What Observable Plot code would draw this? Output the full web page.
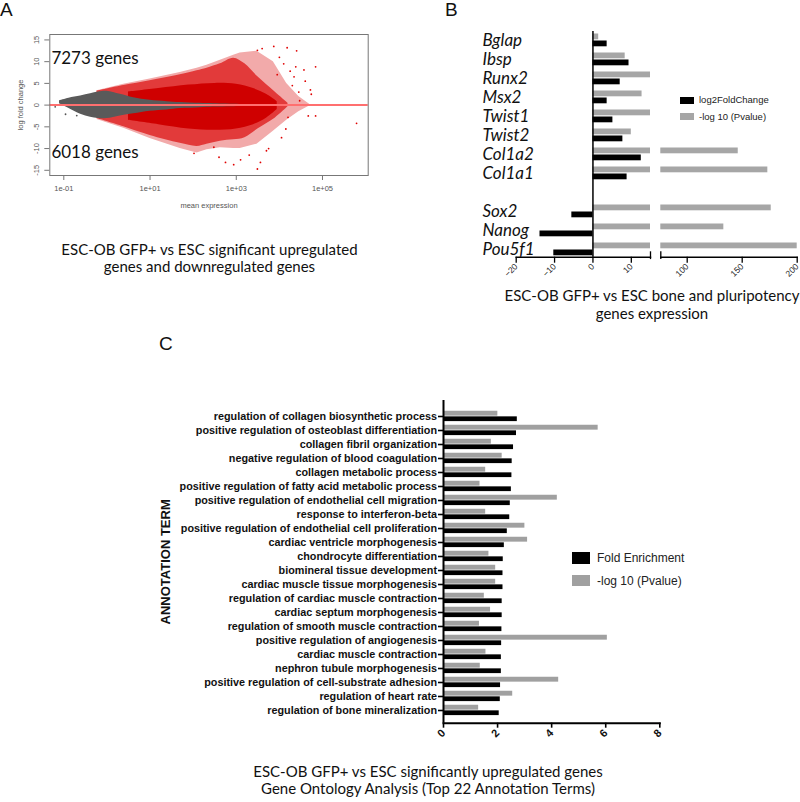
<!DOCTYPE html>
<html>
<head>
<meta charset="utf-8">
<script src="https://cdn.jsdelivr.net/npm/d3@7"></script>
<script src="https://cdn.jsdelivr.net/npm/@observablehq/plot@0.6"></script>
<style>
  html, body { margin: 0; padding: 0; background: #fff; }
  #root { position: relative; width: 800px; height: 802px; overflow: hidden; background: #fff; }
  .cap { position: absolute; text-align: center; font-family: Lato, "Open Sans", sans-serif; font-size: 15px; color: #111; }
  .letter { position: absolute; font-family: "Liberation Sans", Arial, sans-serif; font-size: 19px; color: #111; line-height: 1; }
  .lg { position: absolute; font-family: "Liberation Sans", Arial, sans-serif; color: #222; white-space: nowrap; }
</style>
</head>
<body>
<div id="root"></div>
<script>
// ---------------- Panel A : MA plot (cloud envelopes) ----------------
const maTickValues = [0.1, 10, 1000, 100000];
const maTickLabels = ["1e-01", "1e+01", "1e+03", "1e+05"];
const lfcTicks = [-15, -10, -5, 0, 5, 10, 15];
const upCount = "7273 genes";
const downCount = "6018 genes";

// log10(mean expression) positions and log fold change envelopes
const sparseLogMean = [-0.23, 0.39, 1.0, 1.7, 2.09, 2.32, 2.63, 2.94, 3.09, 3.48, 3.86, 4.17, 4.45, 4.7];
const sparseUpper   = [3.3, 4.8, 6.0, 7.5, 8.5, 9.2, 10.3, 11.5, 12.0, 12.4, 10.0, 5.0, 2.0, 0.2];
const sparseLower   = [-3.3, -5.3, -7.7, -10, -11, -10.3, -9.8, -10, -10, -9, -6.0, -3.5, -1.5, -0.2];

const wedgeLogMean = [-0.23, 0.39, 1.0, 1.7, 2.09, 2.32, 2.63, 2.94, 3.2, 3.5, 3.9, 4.2];
const wedgeUpper   = [3.2, 4.5, 5.6, 7.0, 7.9, 8.5, 9.5, 10.8, 9.5, 6.5, 3.0, 0.4];
const wedgeLower   = [-3.1, -5.0, -7.0, -8.8, -9.5, -9.0, -8.3, -8.0, -7.5, -5.5, -3.0, -0.4];

const coreLogMean = [0.5, 1.2, 1.9, 2.5, 3.0, 3.4, 3.7, 3.95];
const coreUpper   = [3.0, 3.8, 4.6, 5.0, 4.8, 3.8, 2.5, 0.8];
const coreLower   = [-3.5, -4.5, -5.5, -5.8, -5.5, -4.5, -3.0, -1.0];

const grayLogMean = [-1.1, -0.88, -0.61, -0.38, -0.2, 0.0, 0.31, 0.62, 1.0, 1.39, 1.7, 2.16, 2.47, 3.09, 3.55];
const grayUpper   = [1.0, 1.6, 2.1, 2.6, 3.0, 3.2, 2.5, 1.7, 1.1, 0.8, 0.6, 0.4, 0.3, 0.15, 0.1];
const grayLower   = [0.3, -0.8, -2.1, -2.8, -3.1, -3.1, -2.5, -2.0, -1.4, -1.1, -0.8, -0.6, -0.45, -0.3, -0.15];

// isolated significant genes outside the envelopes
const outlierLogMean = [4.4, 4.38, 4.57, 4.84, 4.72, 4.74, 4.47, 4.67, 4.84, 5.79, 4.18, 3.87, 3.49, 2.75, 2.94, 3.49, 3.56, 2.48, 2.02, 4.34, 3.3, 3.7, 2.6, 3.1, 4.1, 4.25, 4.0, 4.3, 4.15, 4.45, 4.05, 4.6, 4.2, 3.95, 3.6, 3.75];
const outlierLfc     = [12.5, 8.8, 8.1, 8.8, 3.5, 2.5, 1.0, -2.5, -2.5, -4.2, 13.2, 13.5, 12.6, -13.2, -13.7, -14.7, -13.2, -9.7, -11.1, 6.5, -11.5, -10.5, -12.0, -12.6, 9.5, 7.8, 11.0, 4.5, -5.5, 3.0, -7.5, 5.5, -2.8, 7.0, 13.0, -10.0];
const grayDotLogMean = [-0.96, -1.2, -0.7];
const grayDotLfc     = [-2.1, -0.4, -2.4];

// ---------------- Panel B : bone and pluripotency genes ----------------
const genesB = ["Bglap", "Ibsp", "Runx2", "Msx2", "Twist1", "Twist2", "Col1a2", "Col1a1", "Sox2", "Nanog", "Pou5f1"];
const log2FoldChange = [3.7, 9.4, 7.1, 3.7, 5.2, 7.8, 12.6, 8.9, -5.5, -13.8, -10.2];
const negLog10PB = [1.5, 8.4, 15, 12.8, 15, 10.0, 146.4, 173.3, 176.4, 133.3, 200];
const xTicksBLow = [-20, -10, 0, 10];
const xTicksBHigh = [100, 150, 200];
const breakLow = 15, breakHigh = 76;

// ---------------- Panel C : GO terms ----------------
const terms = [
  "regulation of collagen biosynthetic process",
  "positive regulation of osteoblast differentiation",
  "collagen fibril organization",
  "negative regulation of blood coagulation",
  "collagen metabolic process",
  "positive regulation of fatty acid metabolic process",
  "positive regulation of endothelial cell migration",
  "response to interferon-beta",
  "positive regulation of endothelial cell proliferation",
  "cardiac ventricle morphogenesis",
  "chondrocyte differentiation",
  "biomineral tissue development",
  "cardiac muscle tissue morphogenesis",
  "regulation of cardiac muscle contraction",
  "cardiac septum morphogenesis",
  "regulation of smooth muscle contraction",
  "positive regulation of angiogenesis",
  "cardiac muscle contraction",
  "nephron tubule morphogenesis",
  "positive regulation of cell-substrate adhesion",
  "regulation of heart rate",
  "regulation of bone mineralization"
];
const foldEnrichment = [2.73, 2.70, 2.59, 2.54, 2.53, 2.51, 2.47, 2.45, 2.36, 2.25, 2.21, 2.20, 2.20, 2.17, 2.17, 2.16, 2.15, 2.14, 2.14, 2.11, 2.10, 2.06];
const negLog10PC = [2.01, 5.72, 1.77, 2.17, 1.56, 1.35, 4.21, 1.56, 3.01, 3.11, 1.68, 1.93, 1.93, 1.51, 1.74, 1.33, 6.06, 1.57, 1.36, 4.26, 2.56, 1.30];
const xTicksC = [0, 2, 4, 6, 8];

// ================= build =================
const root = document.getElementById("root");
function place(el, left, top) {
  el.style.position = "absolute";
  el.style.left = left + "px";
  el.style.top = top + "px";
  root.appendChild(el);
}
function html(cls, left, top, text, extra) {
  const d = document.createElement("div");
  d.className = cls;
  d.style.left = left + "px";
  d.style.top = top + "px";
  d.innerHTML = text;
  if (extra) Object.assign(d.style, extra);
  root.appendChild(d);
  return d;
}
const baseStyle = {fontFamily: "'Liberation Sans', Arial, sans-serif", background: "transparent", overflow: "visible"};
const env = (m, hi, lo) => m.map((v, i) => ({m: v, hi: hi[i], lo: lo[i]}));
const sparse = env(sparseLogMean, sparseUpper, sparseLower);
const wedge = env(wedgeLogMean, wedgeUpper, wedgeLower);
const core = env(coreLogMean, coreUpper, coreLower);
const grayCloud = env(grayLogMean, grayUpper, grayLower);
const outliers = outlierLogMean.map((m, i) => ({m, v: outlierLfc[i]}));
const grayDots = grayDotLogMean.map((m, i) => ({m, v: grayDotLfc[i]}));
const X = d => Math.pow(10, d.m);

const plotA = Plot.plot({
  width: 400, height: 220,
  marginLeft: 49.3, marginRight: 32.3, marginTop: 34, marginBottom: 45,
  style: baseStyle,
  x: {type: "log", domain: [Math.pow(10, -1.325), Math.pow(10, 6.06)], label: null},
  y: {domain: [-16.2, 16.25], label: null},
  marks: [
    Plot.areaY(sparse, {x: X, y1: "lo", y2: "hi", fill: "#f2aaaa"}),
    Plot.areaY(wedge, {x: X, y1: "lo", y2: "hi", fill: "#e23a3a", curve: "catmull-rom"}),
    Plot.areaY(core, {x: X, y1: "lo", y2: "hi", fill: "#cf0000", curve: "catmull-rom"}),
    Plot.dot(outliers, {x: X, y: "v", r: 0.9, fill: "#e00000"}),
    Plot.areaY(grayCloud, {x: X, y1: "lo", y2: "hi", fill: "#5a5a5a", curve: "catmull-rom"}),
    Plot.dot(grayDots, {x: X, y: "v", r: 0.9, fill: "#555"}),
    Plot.ruleY([0], {stroke: "#ff6f6f", strokeWidth: 2}),
    Plot.frame({stroke: "#777"}),
    Plot.axisX({ticks: maTickValues, tickFormat: d => maTickLabels[maTickValues.indexOf(d)], tickSize: 5, tickPadding: 5, fontSize: 7.5, fill: "#555", stroke: "#777"}),
    Plot.axisY({ticks: lfcTicks, tickFormat: () => "", tickSize: 5, stroke: "#777"}),
    Plot.text(lfcTicks, {y: d => d, text: d => String(d), frameAnchor: "left", textAnchor: "middle", dx: -13.3, rotate: -90, fontSize: 7.5, fill: "#555"}),
    Plot.text(["log fold change"], {text: d => d, frameAnchor: "left", textAnchor: "middle", dx: -29.3, rotate: -90, fontSize: 7.5, fill: "#555"}),
    Plot.text(["mean expression"], {text: d => d, frameAnchor: "bottom", dy: 32, fontSize: 7.5, fill: "#555"}),
    Plot.text([upCount], {text: d => d, frameAnchor: "top-left", textAnchor: "start", dx: 1.6, dy: 17, fontSize: 17, fontFamily: "Lato, 'Open Sans', sans-serif", fill: "#111"}),
    Plot.text([downCount], {text: d => d, frameAnchor: "bottom-left", textAnchor: "start", dx: 1.6, dy: -17.5, fontSize: 17, fontFamily: "Lato, 'Open Sans', sans-serif", fill: "#111"})
  ]
});
place(plotA, 0, 0);

// Panel B : broken x axis drawn as two plots sharing the same y band scale
const rowsB = genesB.map((g, i) => ({gene: g, fc: log2FoldChange[i], p: negLog10PB[i]}));
const slotsB = [...genesB.slice(0, 8), "", ...genesB.slice(8)];
const yB = {type: "band", domain: slotsB, range: [32.2, 262.6], padding: 0, label: null, axis: null};
const plotBLow = Plot.plot({
  width: 240, height: 280,
  marginLeft: 95.7, marginRight: 10, marginTop: 31, marginBottom: 23.3,
  style: baseStyle,
  x: {domain: [-20, breakLow], label: null},
  y: yB,
  marks: [
    Plot.barX(rowsB, {y: "gene", x1: 0, x2: d => Math.min(d.p, breakLow), fill: "#a6a6a6", insetTop: 0.5, insetBottom: 12.7}),
    Plot.barX(rowsB, {y: "gene", x: "fc", fill: "#000", insetTop: 7.5, insetBottom: 5.7}),
    Plot.frame({anchor: "bottom", strokeWidth: 1.4}),
    Plot.ruleX([0], {strokeWidth: 1.5}),
    Plot.axisX({ticks: xTicksBLow, tickSize: 6, tickPadding: 2, tickRotate: -45, fontSize: 8.5, strokeWidth: 1.3, fill: "#222"}),
    Plot.tickX([breakLow], {x: d => d, y: () => "Pou5f1", insetTop: 9.3, insetBottom: 1.9, strokeWidth: 1.3}),
    Plot.text(genesB, {y: d => d, text: d => d, frameAnchor: "left", textAnchor: "start", dx: -33.7, dy: -2.3, fontSize: 17, fontStyle: "italic", fontFamily: "Lato, 'Open Sans', sans-serif", fill: "#111"})
  ]
});
place(plotBLow, 420, 0);
const plotBHigh = Plot.plot({
  width: 150, height: 280,
  marginLeft: 10.3, marginRight: 3.3, marginTop: 31, marginBottom: 23.3,
  style: baseStyle,
  x: {domain: [breakHigh, 200], label: null},
  y: yB,
  marks: [
    Plot.barX(rowsB.filter(d => d.p > breakHigh), {y: "gene", x1: breakHigh, x2: "p", fill: "#a6a6a6", insetTop: 0.5, insetBottom: 12.7}),
    Plot.frame({anchor: "bottom", strokeWidth: 1.4}),
    Plot.axisX({ticks: xTicksBHigh, tickSize: 6, tickPadding: 2, tickRotate: -45, fontSize: 8.5, strokeWidth: 1.3, fill: "#222"}),
    Plot.tickX([breakHigh], {x: d => d, y: () => "Pou5f1", insetTop: 9.3, insetBottom: 1.9, strokeWidth: 1.3})
  ]
});
place(plotBHigh, 650, 0);

// Panel C
const rowsC = terms.map((t, i) => ({term: t, fe: foldEnrichment[i], p: negLog10PC[i]}));
const plotC = Plot.plot({
  width: 520, height: 370,
  marginLeft: 293, marginRight: 10.7, marginTop: 20, marginBottom: 27.3,
  style: baseStyle,
  x: {domain: [0, 8], label: null},
  y: {type: "band", domain: terms, range: [20.95, 344.35], padding: 0, label: null, axis: null},
  marks: [
    Plot.barX(rowsC, {y: "term", x: "p", fill: "#a0a0a0", insetTop: 1.75, insetBottom: 7.35}),
    Plot.barX(rowsC, {y: "term", x: "fe", fill: "#000", insetTop: 7.35, insetBottom: 1.9}),
    Plot.ruleX([0], {strokeWidth: 2}),
    Plot.frame({anchor: "bottom", strokeWidth: 2}),
    Plot.axisY({tickSize: 5, tickPadding: 1.5, fontSize: 10.8, fontWeight: "bold", strokeWidth: 1.6, fill: "#111"}),
    Plot.axisX({ticks: xTicksC, tickSize: 5, tickPadding: 3, tickRotate: -45, fontSize: 11, fontWeight: "bold", strokeWidth: 1.6, fill: "#111"}),
    Plot.text(["ANNOTATION TERM"], {text: d => d, frameAnchor: "left", textAnchor: "middle", dx: -278, rotate: -90, fontSize: 13, fontWeight: "bold", fill: "#111"})
  ]
});
place(plotC, 150, 380);

// Panel letters
html("letter", 0, 0, "A");
html("letter", 445, 0, "B");
html("letter", 159, 334, "C");

// Legends
const sw = (left, top, w, h, color) => html("lg", left, top, "", {width: w + "px", height: h + "px", background: color});
sw(680, 97, 14, 7, "#000");
html("lg", 699, 94, "log2FoldChange", {fontSize: "9.5px", lineHeight: "12px"});
sw(680, 113, 14, 6.5, "#a6a6a6");
html("lg", 699, 110.5, "-log 10 (Pvalue)", {fontSize: "9.5px", lineHeight: "12px"});

sw(572, 552, 17.5, 12, "#000");
html("lg", 597, 550.5, "Fold Enrichment", {fontSize: "12px", lineHeight: "15px"});
sw(572, 575, 17.5, 11, "#a0a0a0");
html("lg", 597, 573.5, "-log 10 (Pvalue)", {fontSize: "12px", lineHeight: "15px"});

// Captions
html("cap", 0, 240.5, "ESC-OB GFP+ vs ESC significant upregulated<br>genes and downregulated genes", {width: "419px", lineHeight: "17px"});
html("cap", 504, 286, "ESC-OB GFP+ vs ESC bone and pluripotency<br>genes expression", {width: "296px", lineHeight: "18px"});
html("cap", 178, 762.5, "ESC-OB GFP+ vs ESC significantly upregulated genes<br>Gene Ontology Analysis (Top 22 Annotation Terms)", {width: "500px", lineHeight: "17px"});
</script>
</body>
</html>
